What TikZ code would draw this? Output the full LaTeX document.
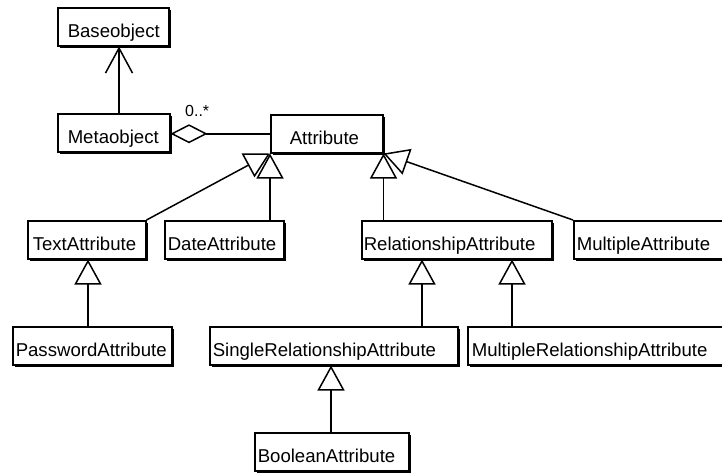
\documentclass[tikz,border=0pt]{standalone}
\usepackage{fontspec}
\setmainfont{Liberation Sans}
\usetikzlibrary{arrows.meta,shadows}
\newcommand{\clstext}[3]{\makebox[#1pt][l]{\hspace*{#2pt}#3}}
\begin{document}
\begin{tikzpicture}[x=1pt,y=-1pt,
  cls/.style={draw=black, line width=1.5pt, fill=white, inner sep=0pt,
    anchor=north west, text height=30pt, text depth=8pt,
    font=\fontsize{18.6}{20}\selectfont,
    drop shadow={shadow xshift=1.8pt,shadow yshift=-1.8pt,fill=black,opacity=1}},
  conn/.style={line width=1.5pt},
  gen/.style={conn, -{Triangle[length=25pt,width=27pt,fill=white,line join=miter]}},
  nav/.style={conn, -{Straight Barb[length=25pt,width=27pt]}},
  agg/.style={conn, -{Diamond[length=37pt,width=19pt,fill=white]}},
  lbl/.style={font=\fontsize{16}{18}\selectfont, inner sep=0pt}
]
\clip (0,0) rectangle (722,472);

\node[cls] (base) at (57,7) {\clstext{111}{10}{Baseobject}};
\node[cls] (meta) at (57,113) {\clstext{112}{10}{Metaobject}};
\node[cls] (attr) at (270,114) {\clstext{112}{19}{Attribute}};
\node[cls] (text) at (27,220) {\clstext{118}{5}{TextAttribute}};
\node[cls] (date) at (164,220) {\clstext{119}{3}{DateAttribute}};
\node[cls] (rel) at (361,220) {\clstext{190}{2}{RelationshipAttribute}};
\node[cls] (mult) at (573,220) {\clstext{160}{3}{MultipleAttribute}};
\node[cls] (pass) at (12,326) {\clstext{159}{3}{PasswordAttribute}};
\node[cls] (single) at (209,326) {\clstext{248}{3}{SingleRelationshipAttribute}};
\node[cls] (multrel) at (467,326) {\clstext{265}{4}{MultipleRelationshipAttribute}};
\node[cls] (bool) at (254,432) {\clstext{154}{3}{BooleanAttribute}};

\node[lbl, anchor=base west] (card) at (185,116) {0..*};

\coordinate (xmeta) at (119,0);
\coordinate (xpass) at (88,0);
\coordinate (xsingle) at (422,0);
\coordinate (xmultrel) at (512,0);
\coordinate (xbool) at (331,0);

\draw[nav] (meta.north -| xmeta) -- (base.south -| xmeta);
\draw[agg] (attr.west) -- (attr.west -| meta.east);

\draw[gen] (text.north east) -- (attr.south west);
\draw[gen] (date.north -| attr.south west) -- (attr.south west);
\draw[gen] (mult.north west) -- (attr.south east);
\draw[gen] (rel.north -| attr.south east) -- (attr.south east);

\draw[gen] (pass.north -| xpass) -- (text.south -| xpass);
\draw[gen] (single.north -| xsingle) -- (rel.south -| xsingle);
\draw[gen] (multrel.north -| xmultrel) -- (rel.south -| xmultrel);
\draw[gen] (bool.north -| xbool) -- (single.south -| xbool);
\end{tikzpicture}
\end{document}
